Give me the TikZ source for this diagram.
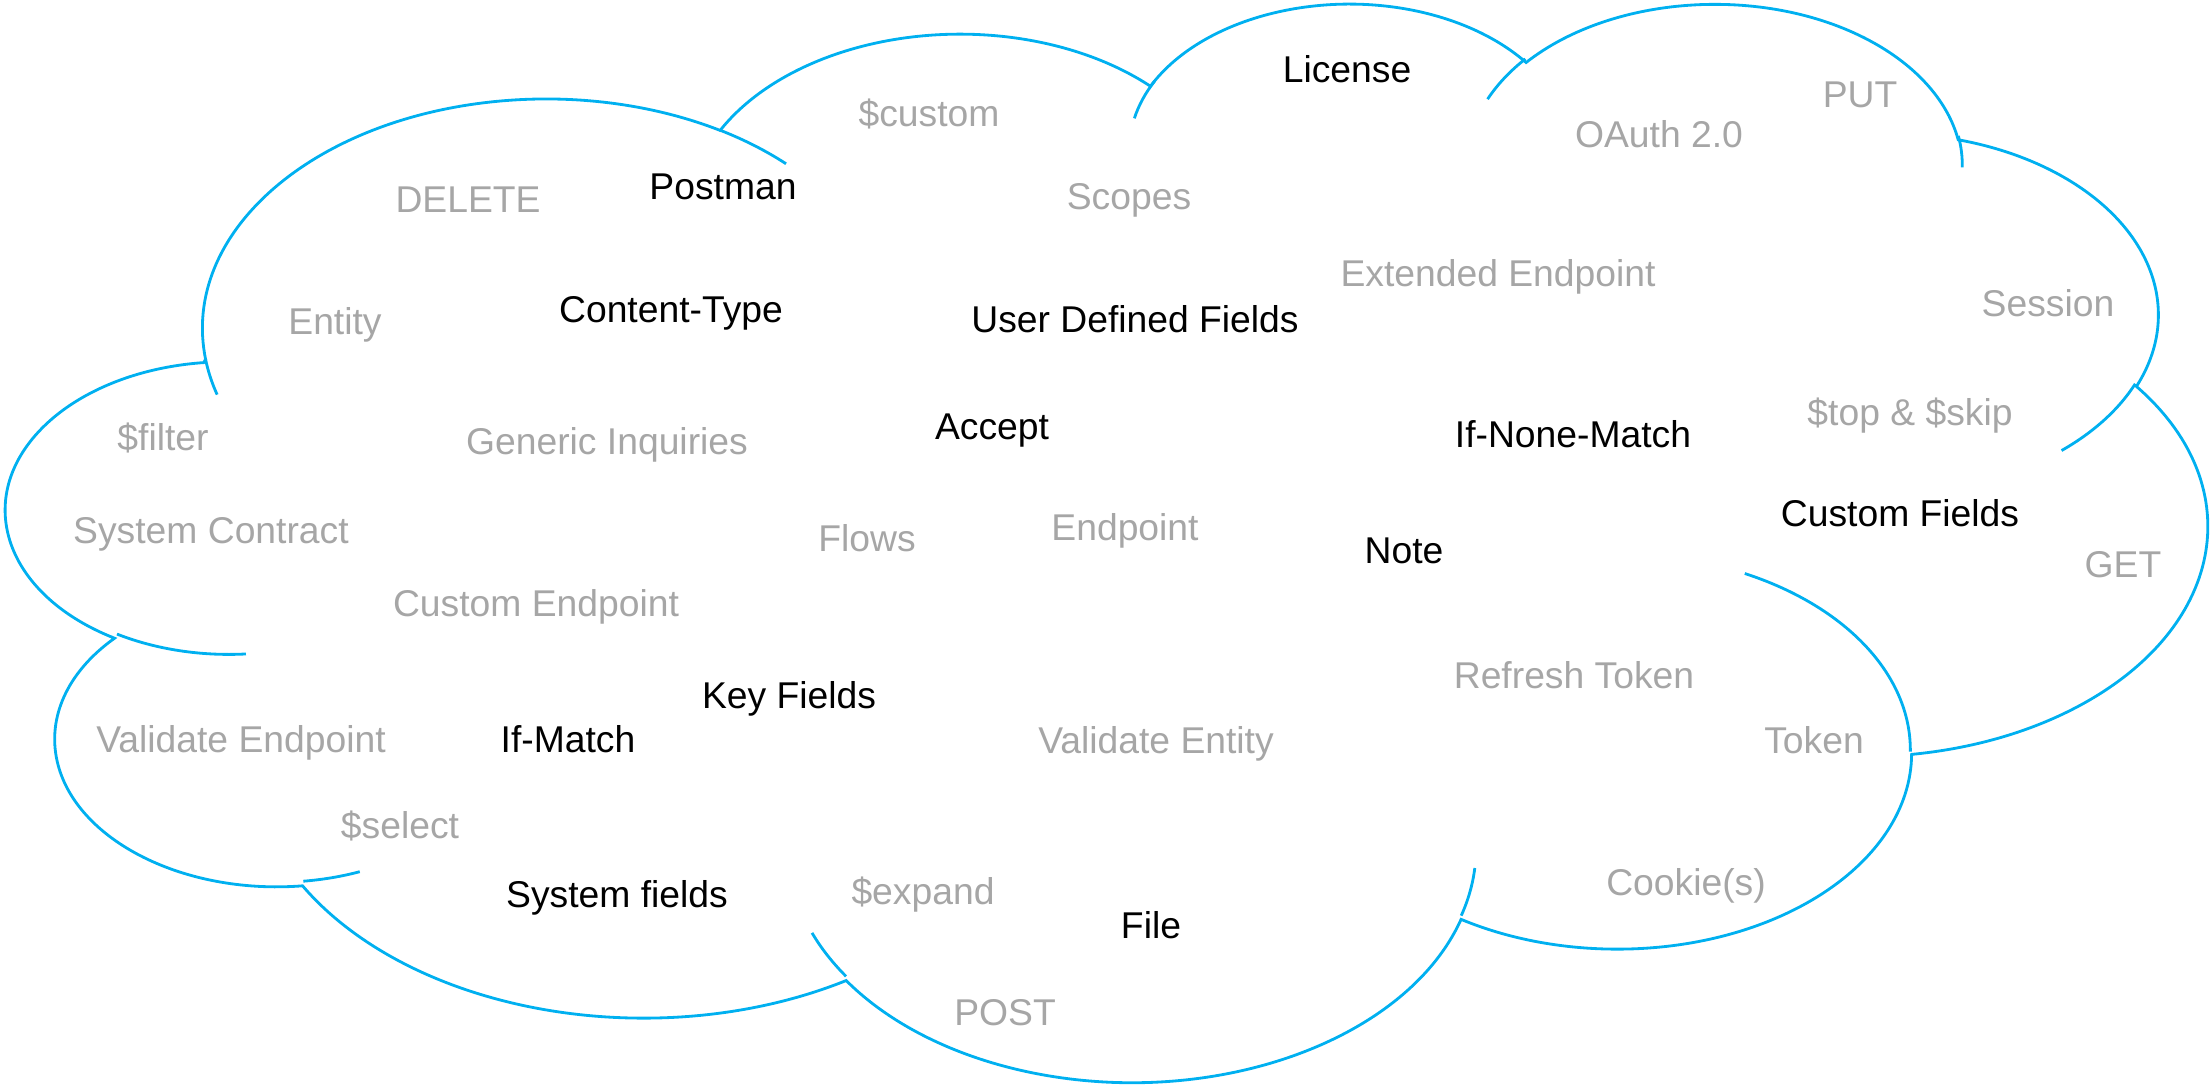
\documentclass[tikz,border=0pt]{standalone}
\usepackage{fontspec}
\setmainfont{Liberation Sans}
\definecolor{cloudblue}{HTML}{00B0F0}
\definecolor{softgray}{HTML}{A6A6A6}
\tikzset{
	word/.style={anchor=base, inner sep=0pt, font=\fontsize{10.6}{12}\selectfont},
	keyword/.style={word, text=black},
	minor/.style={word, text=softgray},
	cloudline/.style={draw=cloudblue, line width=.8pt}
}
\newcommand\cloudarc[4]{arc[start angle={-atan2(#1*sin(#3),#2*cos(#3))},delta angle={-mod(atan2(#1*sin(#3+#4),#2*cos(#3+#4))-atan2(#1*sin(#3),#2*cos(#3))+720,360)},x radius={#1/4320*2.19858cm},y radius={#2/4320*1.07754cm}]}

\begin{document}
\begin{tikzpicture}[x=0.01cm, y=-0.01cm]
	\useasboundingbox (0,0) rectangle (2210,1084);
	\begin{scope}[shift={(7,0.5)}, x=0.050893cm, y=-0.024943cm]
		\draw[cloudline] (39,143.7)
			\cloudarc{6753}{9190}{-190.48748}{123.78053}
			\cloudarc{5333}{7267}{-144.10238}{89.94523}
			\cloudarc{4365}{5945}{-145.80792}{99.72302}
			\cloudarc{4857}{6595}{-130.98607}{117.24173}
			\cloudarc{5333}{7273}{-78.70888}{109.02692}
			\cloudarc{6775}{9220}{-46.26725}{130.269}
			\cloudarc{5785}{7867}{0.62502}{114.03333}
			\cloudarc{6752}{9215}{22.4516}{115.17255}
			\cloudarc{7720}{10543}{66.24263}{75.71102}
			\cloudarc{4360}{5918}{-274.94208}{146.73557}
			\cloudarc{4345}{5945}{-246.8285}{152.51885}
			-- cycle;
		\draw[cloudline]
			(46.93,261.77) \cloudarc{4345}{5945}{86.742}{26.4295}
			(69.28,348.99) \cloudarc{4360}{5918}{73.61047}{11.44747}
			(164.78,390.90) \cloudarc{6752}{9215}{137.62415}{14.0811}
			(288.27,347.51) \cloudarc{6752}{9215}{6.45327}{15.99835}
			(341.29,229.54) \cloudarc{5785}{7867}{-70.29235}{70.91737}
			(417.98,153.54) \cloudarc{5333}{7273}{30.31803}{27.7515}
			(383.24,54.26) \cloudarc{4857}{6595}{-13.74433}{14.8589}
			(290.78,39.52) \cloudarc{4857}{6595}{-149.18145}{18.19537}
			(221.41,47.20) \cloudarc{4365}{5945}{-163.49427}{19}
			(140.00,51.92) \cloudarc{6753}{9190}{-66.70695}{12.31935}
			(41.27,157.89) \cloudarc{6753}{9190}{157.65435}{11.85817};
	\end{scope}
	\node[keyword] (license) at (1347,82) {License};
	\node[keyword] (postman) at (723,199) {Postman};
	\node[keyword] (contenttype) at (671,322) {Content-Type};
	\node[keyword] (udf) at (1135,332) {User Defined Fields};
	\node[keyword] (accept) at (992,439) {Accept};
	\node[keyword] (ifnonematch) at (1573,447) {If-None-Match};
	\node[keyword] (customfields) at (1900,526) {Custom Fields};
	\node[keyword] (note) at (1404,563) {Note};
	\node[keyword] (keyfields) at (789,708) {Key Fields};
	\node[keyword] (ifmatch) at (568,752) {If-Match};
	\node[keyword] (systemfields) at (617,907) {System fields};
	\node[keyword] (file) at (1151,938) {File};
	\node[minor] (custom) at (929,126) {\$custom};
	\node[minor] (oauth) at (1659,147) {OAuth 2.0};
	\node[minor] (put) at (1860,107) {PUT};
	\node[minor] (delete) at (468,212) {DELETE};
	\node[minor] (scopes) at (1129,209) {Scopes};
	\node[minor] (extended) at (1498,286) {Extended Endpoint};
	\node[minor] (entity) at (335,334) {Entity};
	\node[minor] (session) at (2048,316) {Session};
	\node[minor] (topskip) at (1910,425) {\$top \& \$skip};
	\node[minor] (filter) at (163,450) {\$filter};
	\node[minor] (generic) at (607,454) {Generic Inquiries};
	\node[minor] (syscontract) at (211,543) {System Contract};
	\node[minor] (flows) at (867,551) {Flows};
	\node[minor] (endpoint) at (1125,540) {Endpoint};
	\node[minor] (get) at (2123,577) {GET};
	\node[minor] (customendpoint) at (536,616) {Custom Endpoint};
	\node[minor] (refresh) at (1574,688) {Refresh Token};
	\node[minor] (valendpoint) at (241,752) {Validate Endpoint};
	\node[minor] (token) at (1814,753) {Token};
	\node[minor] (valentity) at (1156,753) {Validate Entity};
	\node[minor] (select) at (400,838) {\$select};
	\node[minor] (expand) at (923,904) {\$expand};
	\node[minor] (cookies) at (1686,895) {Cookie(s)};
	\node[minor] (post) at (1005,1025) {POST};
\end{tikzpicture}
\end{document}
